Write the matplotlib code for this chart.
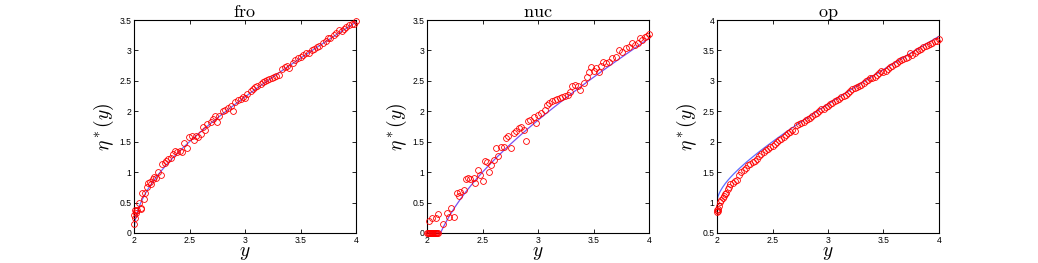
import matplotlib
matplotlib.use("Agg")
import matplotlib.pyplot as plt

plt.rcParams['mathtext.fontset'] = 'cm'
plt.rcParams['font.family'] = ['Liberation Sans', 'DejaVu Sans']

titles = ["fro", "nuc", "op"]

# theoretical curves
line_x = [2.0, 2.005, 2.01, 2.02, 2.03, 2.05, 2.075, 2.1, 2.1213, 2.15, 2.2, 2.25, 2.3, 2.35,
          2.4, 2.45, 2.5, 2.55, 2.6, 2.65, 2.7, 2.75, 2.8, 2.85, 2.9, 2.95, 3.0, 3.05,
          3.1, 3.15, 3.2, 3.25, 3.3, 3.35, 3.4, 3.45, 3.5, 3.55, 3.6, 3.65, 3.7, 3.75,
          3.8, 3.85, 3.9, 3.95, 4.0]
fro_line = [0.0, 0.1415, 0.2002, 0.2835, 0.3477, 0.45, 0.5528, 0.6403, 0.7071, 0.789, 0.9165,
            1.0308, 1.1358, 1.2339, 1.3266, 1.4151, 1.5, 1.5819, 1.6613, 1.7385, 1.8138,
            1.8875, 1.9596, 2.0304, 2.1, 2.1685, 2.2361, 2.3027, 2.3685, 2.4336, 2.498,
            2.5617, 2.6249, 2.6875, 2.7495, 2.8111, 2.8723, 2.933, 2.9933, 3.0533, 3.1129,
            3.1721, 3.2311, 3.2898, 3.3481, 3.4062, 3.4641]
nuc_line = [0.0, 0.0, 0.0, 0.0, 0.0, 0.0, 0.0, 0.0, 0.0, 0.1085, 0.2748, 0.4212, 0.5537, 0.6759,
            0.7899, 0.8977, 1.0, 1.0979, 1.192, 1.2829, 1.3707, 1.4563, 1.5394, 1.6206,
            1.7, 1.7778, 1.8541, 1.9291, 2.0029, 2.0754, 2.147, 2.2176, 2.2874, 2.3563,
            2.4244, 2.4917, 2.5585, 2.6245, 2.69, 2.755, 2.8194, 2.8832, 2.9467, 3.0097,
            3.0722, 3.1343, 3.1962]
op_line = [1.0, 1.0733, 1.1051, 1.1518, 1.1889, 1.25, 1.3139, 1.3702, 1.4142, 1.4695, 1.5583,
           1.6404, 1.7179, 1.792, 1.8633, 1.9326, 2.0, 2.066, 2.1307, 2.1943, 2.2569,
           2.3188, 2.3798, 2.4402, 2.5, 2.5593, 2.618, 2.6764, 2.7343, 2.7918, 2.849,
           2.9059, 2.9625, 3.0188, 3.0748, 3.1306, 3.1862, 3.2415, 3.2967, 3.3517, 3.4065,
           3.4611, 3.5156, 3.5699, 3.6241, 3.6781, 3.7321]

# empirical points
fro_x = [2.000, 2.003, 2.005, 2.010, 2.015, 2.020, 2.030, 2.045, 2.060, 2.065, 2.075, 2.090,
         2.100, 2.115, 2.125, 2.140, 2.155, 2.170, 2.180, 2.200, 2.220, 2.240, 2.255, 2.275,
         2.290, 2.310, 2.330, 2.350, 2.370, 2.390, 2.410, 2.435, 2.450, 2.480, 2.495, 2.520,
         2.540, 2.560, 2.580, 2.600, 2.620, 2.640, 2.660, 2.690, 2.710, 2.730, 2.750, 2.770,
         2.800, 2.820, 2.850, 2.870, 2.890, 2.910, 2.940, 2.960, 2.980, 3.000, 3.020, 3.050,
         3.070, 3.090, 3.110, 3.140, 3.160, 3.180, 3.200, 3.220, 3.240, 3.260, 3.280, 3.310,
         3.330, 3.360, 3.380, 3.400, 3.430, 3.450, 3.480, 3.500, 3.520, 3.550, 3.580, 3.600,
         3.620, 3.650, 3.670, 3.700, 3.730, 3.750, 3.770, 3.800, 3.820, 3.850, 3.870, 3.890,
         3.910, 3.940, 3.960, 3.980, 4.000]
fro_y = [0.15, 0.30, 0.37, 0.25, 0.36, 0.33, 0.38, 0.50, 0.40, 0.41, 0.65, 0.56, 0.66, 0.76,
         0.82, 0.83, 0.80, 0.89, 0.92, 0.90, 1.00, 0.95, 1.14, 1.15, 1.19, 1.21, 1.23, 1.30,
         1.35, 1.33, 1.35, 1.33, 1.48, 1.40, 1.58, 1.60, 1.52, 1.60, 1.57, 1.63, 1.74, 1.70,
         1.79, 1.83, 1.88, 1.92, 1.83, 1.92, 2.00, 2.02, 2.05, 2.09, 2.00, 2.15, 2.18, 2.21,
         2.24, 2.22, 2.28, 2.34, 2.37, 2.40, 2.41, 2.45, 2.48, 2.50, 2.51, 2.53, 2.54, 2.56,
         2.58, 2.60, 2.69, 2.73, 2.74, 2.71, 2.80, 2.84, 2.88, 2.90, 2.92, 2.96, 2.95, 3.00,
         3.03, 3.05, 3.07, 3.13, 3.16, 3.20, 3.21, 3.25, 3.28, 3.34, 3.32, 3.35, 3.38, 3.41,
         3.44, 3.43, 3.48]

nuc_x = [2.000, 2.007, 2.014, 2.021, 2.028, 2.035, 2.042, 2.049, 2.056, 2.063, 2.070, 2.077,
         2.084, 2.091, 2.098, 2.020, 2.045, 2.085, 2.100, 2.140, 2.180, 2.200, 2.220, 2.240,
         2.270, 2.290, 2.300, 2.330, 2.350, 2.370, 2.390, 2.420, 2.430, 2.460, 2.480, 2.500,
         2.520, 2.540, 2.560, 2.580, 2.600, 2.620, 2.640, 2.670, 2.690, 2.710, 2.730, 2.760,
         2.780, 2.800, 2.830, 2.850, 2.870, 2.890, 2.910, 2.930, 2.960, 2.980, 3.000, 3.030,
         3.060, 3.080, 3.100, 3.130, 3.150, 3.170, 3.200, 3.220, 3.240, 3.270, 3.290, 3.310,
         3.330, 3.360, 3.380, 3.410, 3.440, 3.460, 3.480, 3.500, 3.520, 3.550, 3.570, 3.590,
         3.610, 3.640, 3.670, 3.700, 3.730, 3.760, 3.790, 3.820, 3.850, 3.870, 3.900, 3.920,
         3.940, 3.960, 3.980, 4.000]
nuc_y = [0.0, 0.0, 0.0, 0.0, 0.0, 0.0, 0.0, 0.0, 0.0, 0.0, 0.0, 0.0, 0.0, 0.0, 0.0,
         0.20, 0.25, 0.25, 0.32, 0.14, 0.33, 0.26, 0.41, 0.26, 0.66, 0.60, 0.68, 0.70, 0.88,
         0.90, 0.88, 0.90, 0.82, 1.04, 0.96, 0.85, 1.19, 1.16, 1.00, 1.12, 1.20, 1.40, 1.26,
         1.42, 1.42, 1.56, 1.60, 1.40, 1.64, 1.67, 1.72, 1.74, 1.70, 1.51, 1.84, 1.86, 1.90,
         1.81, 1.94, 1.97, 2.02, 2.11, 2.13, 2.17, 2.19, 2.20, 2.22, 2.24, 2.25, 2.27, 2.32,
         2.42, 2.44, 2.42, 2.35, 2.46, 2.56, 2.64, 2.72, 2.66, 2.71, 2.65, 2.75, 2.81, 2.79,
         2.81, 2.87, 2.90, 3.01, 2.98, 3.04, 3.06, 3.13, 3.09, 3.13, 3.20, 3.17, 3.22, 3.23,
         3.27]

op_x = [2.000, 2.003, 2.006, 2.010, 2.020, 2.030, 2.040, 2.050, 2.060, 2.070, 2.080, 2.100,
        2.110, 2.120, 2.140, 2.160, 2.180, 2.200, 2.220, 2.240, 2.260, 2.280, 2.300, 2.320,
        2.340, 2.360, 2.380, 2.400, 2.420, 2.440, 2.460, 2.480, 2.500, 2.520, 2.540, 2.560,
        2.580, 2.600, 2.620, 2.640, 2.660, 2.680, 2.700, 2.720, 2.740, 2.760, 2.780, 2.800,
        2.820, 2.840, 2.860, 2.880, 2.900, 2.920, 2.940, 2.960, 2.980, 3.000, 3.020, 3.040,
        3.060, 3.080, 3.100, 3.120, 3.140, 3.160, 3.180, 3.200, 3.220, 3.240, 3.260, 3.280,
        3.300, 3.320, 3.340, 3.360, 3.380, 3.400, 3.420, 3.440, 3.460, 3.480, 3.500, 3.520,
        3.540, 3.560, 3.580, 3.600, 3.620, 3.640, 3.660, 3.680, 3.700, 3.720, 3.740, 3.760,
        3.780, 3.800, 3.820, 3.840, 3.860, 3.880, 3.900, 3.920, 3.940, 3.960, 3.980, 4.000]
op_y = [0.85, 0.87, 0.86, 0.90, 0.95, 1.01, 1.05, 1.08, 1.11, 1.14, 1.16, 1.22, 1.26, 1.30,
        1.32, 1.35, 1.37, 1.46, 1.50, 1.54, 1.57, 1.61, 1.64, 1.67, 1.69, 1.72, 1.76, 1.79,
        1.83, 1.86, 1.88, 1.91, 1.93, 1.96, 1.99, 2.02, 2.05, 2.08, 2.11, 2.14, 2.16, 2.20,
        2.17, 2.27, 2.29, 2.30, 2.33, 2.35, 2.37, 2.39, 2.42, 2.45, 2.47, 2.50, 2.53, 2.54,
        2.57, 2.59, 2.62, 2.64, 2.67, 2.69, 2.71, 2.73, 2.75, 2.77, 2.80, 2.83, 2.86, 2.88,
        2.90, 2.92, 2.94, 2.97, 3.00, 3.02, 3.04, 3.05, 3.07, 3.10, 3.13, 3.17, 3.15, 3.17,
        3.20, 3.23, 3.25, 3.27, 3.29, 3.32, 3.34, 3.36, 3.38, 3.40, 3.46, 3.42, 3.46, 3.49,
        3.51, 3.53, 3.55, 3.57, 3.59, 3.61, 3.63, 3.65, 3.66, 3.68]

x_ticks = [2, 2.5, 3, 3.5, 4]
x_ticklabels = ["2", "2.5", "3", "3.5", "4"]
y_ticks_a = [0, 0.5, 1, 1.5, 2, 2.5, 3, 3.5]
y_ticklabels_a = ["0", "0.5", "1", "1.5", "2", "2.5", "3", "3.5"]
y_ticks_op = [0.5, 1, 1.5, 2, 2.5, 3, 3.5, 4]
y_ticklabels_op = ["0.5", "1", "1.5", "2", "2.5", "3", "3.5", "4"]

fig = plt.figure(figsize=(10.38, 2.63), dpi=100)
lefts = [134 / 1038, 427 / 1038, 717 / 1038]
w = 222 / 1038
b = 30 / 263
h = 213 / 263

panels = [
    (fro_x, fro_y, fro_line, '#6a6aff', y_ticks_a, y_ticklabels_a, (0, 3.5)),
    (nuc_x, nuc_y, nuc_line, '#7a50f0', y_ticks_a, y_ticklabels_a, (0, 3.5)),
    (op_x, op_y, op_line, '#5c6cff', y_ticks_op, y_ticklabels_op, (0.5, 4)),
]

for i, (sx, sy, ly, lc, yt, ytl, ylim) in enumerate(panels):
    ax = fig.add_axes([lefts[i], b, w, h])
    ax.plot(line_x, ly, color=lc, lw=0.9, zorder=2)
    ax.plot(sx, sy, linestyle='none', marker='o', markersize=4.2, markerfacecolor='none',
            markeredgecolor='red', markeredgewidth=0.6, zorder=3, clip_on=False)
    ax.set_xlim(2, 4)
    ax.set_ylim(*ylim)
    ax.set_xticks(x_ticks)
    ax.set_xticklabels(x_ticklabels)
    ax.set_yticks(yt)
    ax.set_yticklabels(ytl)
    ax.tick_params(direction='in', length=3, width=0.6, labelsize=6.2, pad=2,
                   top=True, right=True, colors='black')
    for sp in ax.spines.values():
        sp.set_linewidth(0.8)
    ax.set_title(r'$\mathrm{' + titles[i] + '}$', fontsize=13, pad=2)
    ax.set_xlabel(r'$y$', fontsize=14, labelpad=0)
    ax.set_ylabel(r'$\eta^*(y)$', fontsize=14, labelpad=2)

fig.savefig('out.png', dpi=100)
